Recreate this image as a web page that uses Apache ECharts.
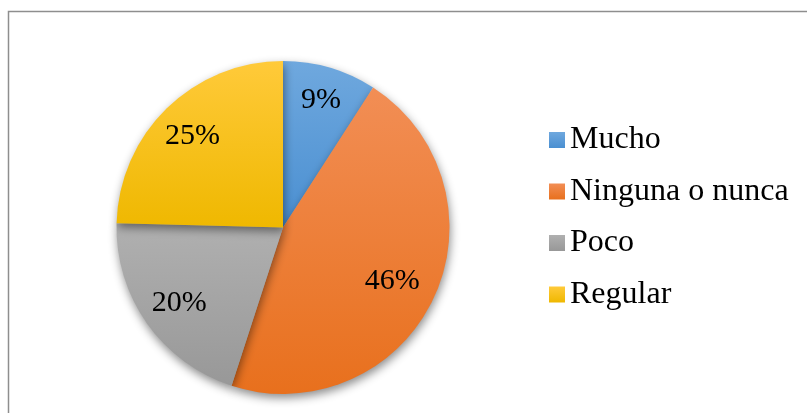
<!DOCTYPE html>
<html><head><meta charset="utf-8">
<script src="https://cdn.jsdelivr.net/npm/echarts@6/dist/echarts.min.js"></script>
<style>html,body{margin:0;padding:0;background:#fff}#c{width:807px;height:413px}</style>
</head><body><div id="c"></div>
<script>
const categories = ['Mucho', 'Ninguna o nunca', 'Poco', 'Regular'];
const values = [9.1, 45.9, 20.4, 24.6];
const topColors = ['#6fa8de', '#f28e55', '#b0b0b0', '#ffca3a'];
const bottomColors = ['#4a8fd1', '#e8701d', '#989898', '#efb800'];
// radial placement of each data label, relative to the default 'inside' spot
const labelRadiusFactor = [1.06, 0.95, 1.0, 1.02];

const grad = (i) => new echarts.graphic.LinearGradient(0, 0, 0, 1, [
  { offset: 0, color: topColors[i] }, { offset: 1, color: bottomColors[i] }
]);
const font = '"Liberation Serif", "Times New Roman", serif';
const center = [283, 227.5];
const R = 166.5;

const chart = echarts.init(document.getElementById('c'), null, { renderer: 'canvas' });
chart.setOption({
  animation: false,
  graphic: [{
    type: 'rect', shape: { x: 8.5, y: 11.5, width: 820, height: 420 },
    style: { fill: 'none', stroke: '#8e8e8e', lineWidth: 1.5 }, z: -10
  }],
  legend: {
    orient: 'vertical', left: 549, top: 124, padding: 0,
    itemWidth: 16, itemHeight: 16, itemGap: 19.5,
    icon: 'rect',
    data: categories,
    textStyle: { fontFamily: font, fontSize: 32, color: '#000', lineHeight: 28 }
  },
  series: [{
    type: 'pie', center: center, radius: [0, R],
    startAngle: 90, clockwise: true,
    label: { show: false }, labelLine: { show: false },
    emphasis: { disabled: true },
    itemStyle: {
      borderWidth: 0,
      shadowBlur: 10, shadowOffsetY: 4, shadowOffsetX: 1, shadowColor: 'rgba(0,0,0,0.45)'
    },
    data: categories.map((n, i) => ({ name: n, value: values[i], itemStyle: { color: grad(i) } }))
  }, {
    type: 'pie', center: center, radius: [82, R],
    startAngle: 90, clockwise: true, silent: true,
    itemStyle: { color: 'rgba(0,0,0,0)', borderWidth: 0 },
    label: {
      show: true, position: 'inside', fontFamily: font, fontSize: 30, color: '#000',
      formatter: (p) => Math.round(p.value) + '%'
    },
    labelLayout: (p) => {
      const r = p.labelRect;
      const cx = r.x + r.width / 2, cy = r.y + r.height / 2;
      const f = labelRadiusFactor[p.dataIndex] - 1;
      return { dx: (cx - center[0]) * f, dy: (cy - center[1]) * f + 2 };
    },
    labelLine: { show: false },
    emphasis: { disabled: true },
    data: categories.map((n, i) => ({ name: n, value: values[i] }))
  }]
});
</script></body></html>
